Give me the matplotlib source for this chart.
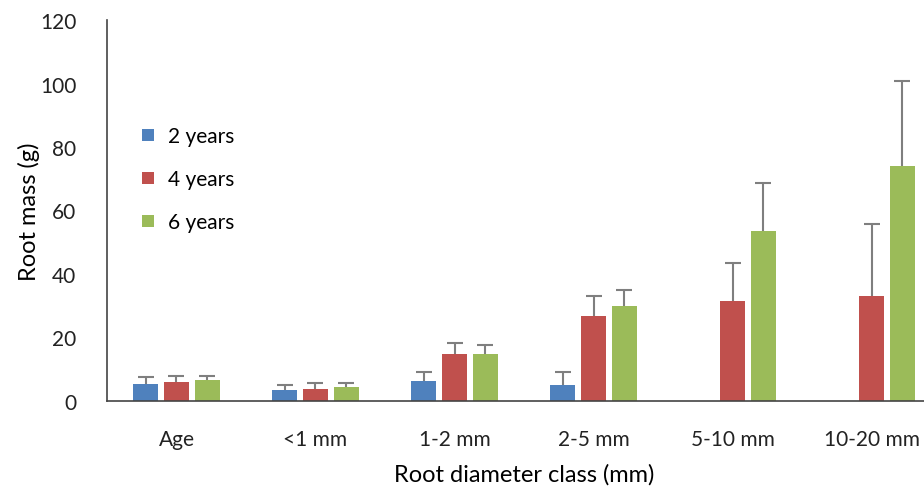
import matplotlib
matplotlib.use('Agg')
import matplotlib.pyplot as plt
import numpy as np

plt.rcParams['font.family'] = ['Lato', 'DejaVu Sans']

categories = ['Age', '<1 mm', '1-2 mm', '2-5 mm', '5-10 mm', '10-20 mm']
series = ['2 years', '4 years', '6 years']
colors = ['#4F81BD', '#C0504D', '#9BBB59']

# mean root mass and upper error (SD) per class
mass_2y = [5.4, 3.5, 6.3, 5.1, np.nan, np.nan]
err_2y = [2.2, 1.5, 2.9, 4.1, np.nan, np.nan]
mass_4y = [6.0, 3.9, 14.7, 26.9, 31.5, 33.2]
err_4y = [2.0, 1.6, 3.7, 6.2, 12.0, 22.4]
mass_6y = [6.5, 4.3, 14.7, 29.8, 53.6, 74.1]
err_6y = [1.5, 1.2, 2.8, 5.3, 15.0, 26.7]

means = [mass_2y, mass_4y, mass_6y]
errs = [err_2y, err_4y, err_6y]

fig = plt.figure(figsize=(9.24, 4.89), dpi=100)
ax = fig.add_axes([0.1158, 0.178, 0.9026, 0.779])

x = np.arange(len(categories))
w = 0.18
step = 0.223
for i, (m, e) in enumerate(zip(means, errs)):
    m = np.array(m, dtype=float)
    e = np.array(e, dtype=float)
    ax.bar(x + (i - 1) * step, np.nan_to_num(m), w, color=colors[i],
           label=series[i], zorder=2)
    ok = ~np.isnan(m)
    xp = x[ok] + (i - 1) * step
    # upper error bar only
    ax.vlines(xp, m[ok], m[ok] + e[ok], color='#7F7F7F', lw=1.5, zorder=3)
    ax.plot(xp, m[ok] + e[ok], ls='none', marker='_', ms=11, mew=1.5,
            color='#7F7F7F', zorder=3)

ax.set_xlim(-0.5, 5.5)
ax.set_ylim(0, 120)
ax.set_yticks(np.arange(0, 121, 20))
ax.set_xticks(x)
ax.set_xticklabels(categories)
ax.tick_params(axis='both', length=0, labelsize=15, colors='#222222')
ax.tick_params(axis='x', pad=20)
ax.tick_params(axis='y', pad=22)

for s in ['top', 'right']:
    ax.spines[s].set_visible(False)
for s in ['left', 'bottom']:
    ax.spines[s].set_color('#444444')
    ax.spines[s].set_linewidth(1.2)

ax.set_xlabel('Root diameter class (mm)', fontsize=17, labelpad=10)
ax.set_ylabel('Root mass (g)', fontsize=17, labelpad=0)

ax.legend(loc='upper left', bbox_to_anchor=(0.02, 0.77), frameon=False,
          fontsize=15, handlelength=0.55, handleheight=0.55,
          handletextpad=0.7, labelspacing=1.1)

fig.savefig('out.png', dpi=100)
